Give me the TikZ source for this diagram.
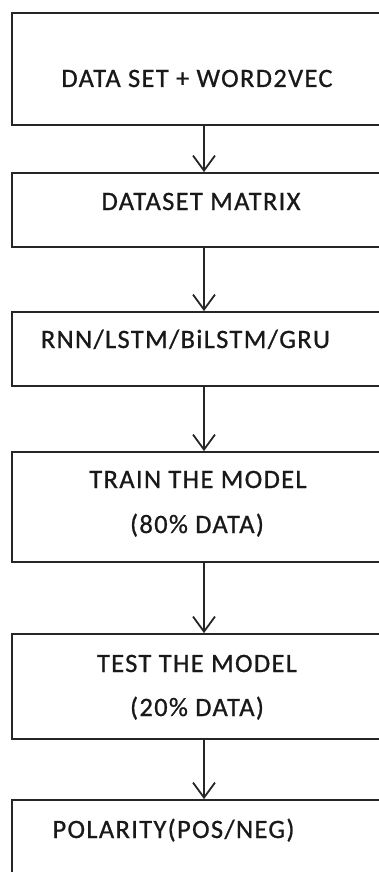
\documentclass[tikz,border=0pt]{standalone}
\usepackage{fontspec}
\setmainfont{Carlito}[LetterSpace=5, FakeBold=0.8]
\usepackage{tikz}
\usetikzlibrary{positioning,arrows.meta}

\tikzset{
  stepbox/.style={draw=black!85, line width=1.8pt, rectangle, minimum width=384pt, inner sep=0pt},
  steptext/.style={anchor=base, inner sep=0pt, text=black!90},
  flow/.style={draw=black!85, line width=1.8pt, -{Straight Barb[length=15pt,width=22pt,line width=1.8pt]}}
}

\begin{document}
\begin{tikzpicture}[x=1pt, y=1pt, font=\fontsize{26.5}{30}\selectfont]
\clip (0,0) rectangle (379,-872);
\useasboundingbox (0,0) rectangle (379,-872);
% boxes
\node[stepbox, minimum height=112pt] (data)  at (204,-69)   {};
\node[stepbox, minimum height=74pt]  (mat)   at (204,-210)  {};
\node[stepbox, minimum height=74pt]  (rnn)   at (204,-349)  {};
\node[stepbox, minimum height=110pt] (train) at (204,-507)  {};
\node[stepbox, minimum height=105pt] (test)  at (204,-686.5){};
\node[stepbox, minimum height=112pt] (pol)   at (204,-856)  {};
% labels
\node[steptext] (datat)   at (197,-87)   {DATA SET + WORD2VEC};
\node[steptext] (matt)    at (201,-210)  {DATASET MATRIX};
\node[steptext] (rnnt)    at (185.5,-348){RNN/LSTM/BiLSTM/GRU};
\node[steptext] (traint)  at (198,-488)  {TRAIN THE MODEL};
\node[steptext] (trainp)  at (197,-533)  {(80\% DATA)};
\node[steptext] (testt)   at (197,-672)  {TEST THE MODEL};
\node[steptext] (testp)   at (197,-716)  {(20\% DATA)};
\node[steptext] (polt)    at (173.5,-838){POLARITY(POS/NEG)};
% arrows
\draw[flow] (data) -- (mat);
\draw[flow] (mat) -- (rnn);
\draw[flow] (rnn) -- (train);
\draw[flow] (train) -- (test);
\draw[flow] (test) -- (pol);
\end{tikzpicture}
\end{document}
